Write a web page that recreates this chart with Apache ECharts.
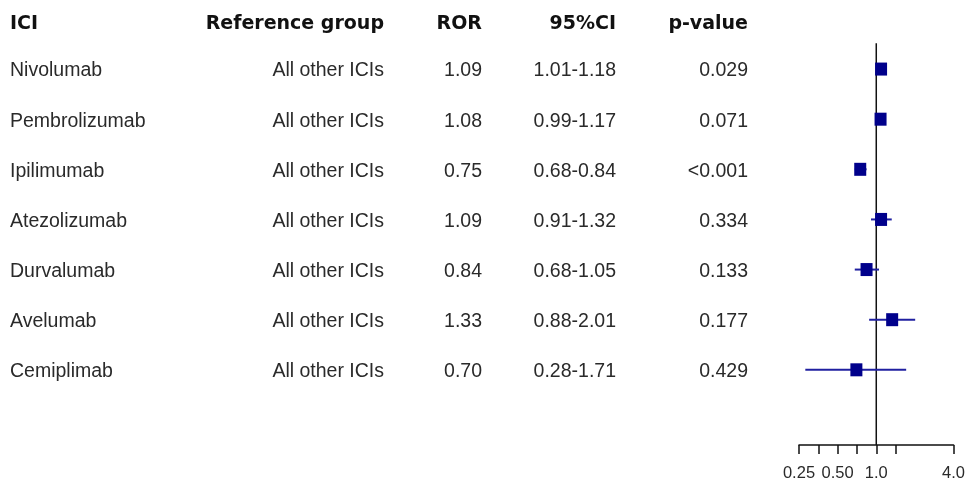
<!DOCTYPE html>
<html>
<head>
<meta charset="utf-8">
<script src="https://cdn.jsdelivr.net/npm/echarts@6/dist/echarts.min.js"></script>
<style>
html,body{margin:0;padding:0;background:#fff;}
#chart{width:968px;height:484px;}
</style>
</head>
<body>
<div id="chart"></div>
<script>
var drugs = ['Nivolumab','Pembrolizumab','Ipilimumab','Atezolizumab','Durvalumab','Avelumab','Cemiplimab'];
var refGroups = ['All other ICIs','All other ICIs','All other ICIs','All other ICIs','All other ICIs','All other ICIs','All other ICIs'];
var ror = [1.09, 1.08, 0.75, 1.09, 0.84, 1.33, 0.70];
var ciLow = [1.01, 0.99, 0.68, 0.91, 0.68, 0.88, 0.28];
var ciHigh = [1.18, 1.17, 0.84, 1.32, 1.05, 2.01, 1.71];
var pValues = ['0.029','0.071','<0.001','0.334','0.133','0.177','0.429'];
var headers = ['ICI','Reference group','ROR','95%CI','p-value'];
var refValue = 1.0;
var tickValues = [0.25, 0.354, 0.5, 0.707, 1.0, 1.414, 4.0];
var tickLabelValues = [0.25, 0.5, 1.0, 4.0];
var tickLabels = ['0.25','0.50','1.0','4.0'];

var log2 = function(v){ return Math.log(v)/Math.LN2; };
var FONT = "'Liberation Sans', Arial, sans-serif";
var HFONT = "'DejaVu Sans', Verdana, sans-serif";
var TXT = '#2a2a2a';
var GRID_TOP = 44, GRID_H = 401;

// column layout (pixel x of anchor, alignment)
var cols = [
  {x: 10, align: 'left'},
  {x: 384, align: 'right'},
  {x: 482, align: 'right'},
  {x: 616, align: 'right'},
  {x: 748, align: 'right'}
];

var rows = drugs.map(function(d, i){
  return [d, refGroups[i], ror[i].toFixed(2), ciLow[i].toFixed(2) + '-' + ciHigh[i].toFixed(2), pValues[i]];
});

var textSeries = [];
cols.forEach(function(c, ci){
  var data = [{value: [c.x, 0.1], name: headers[ci],
    label: {fontWeight: 'bold', fontSize: 19, fontFamily: HFONT, color: '#111', offset: [0, 0]}}];
  rows.forEach(function(r, ri){ data.push({value: [c.x, ri + 1], name: r[ci]}); });
  textSeries.push({
    type: 'scatter', xAxisIndex: 1, yAxisIndex: 1, symbolSize: 0, clip: false, silent: true,
    itemStyle: {opacity: 1},
    data: data,
    label: {show: true, position: 'inside', align: c.align, verticalAlign: 'middle', offset: [0, 2],
      formatter: function(p){ return p.name; }, color: TXT, fontSize: 19.5, fontFamily: FONT}
  });
});

var labelMap = {};
tickLabelValues.forEach(function(v, i){ labelMap[log2(v).toFixed(3)] = tickLabels[i]; });

var chart = echarts.init(document.getElementById('chart'), null, {renderer: 'canvas'});
chart.setOption({
  animation: false,
  backgroundColor: '#fff',
  grid: [
    {left: 799, right: 10, top: GRID_TOP, height: GRID_H},
    {left: 0, right: 0, top: GRID_TOP, height: GRID_H}
  ],
  xAxis: [
    {type: 'value', gridIndex: 0, min: -2, max: 2,
      splitLine: {show: false},
      axisLine: {show: true, onZero: false, lineStyle: {color: '#111', width: 1.5}},
      axisTick: {show: true, length: 9, lineStyle: {color: '#111', width: 1.5},
        customValues: tickValues.map(log2)},
      axisLabel: {show: true, margin: 20, color: TXT, fontSize: 16.5, fontFamily: FONT,
        customValues: tickLabelValues.map(log2),
        formatter: function(v){ return labelMap[v.toFixed(3)] || ''; }}
    },
    {type: 'value', gridIndex: 1, min: 0, max: 968, show: false}
  ],
  yAxis: [
    {type: 'value', gridIndex: 0, inverse: true, min: 0.5, max: 8.5, show: false},
    {type: 'value', gridIndex: 1, inverse: true, min: 0.5, max: 8.5, show: false}
  ],
  series: [
    {
      type: 'line', xAxisIndex: 0, yAxisIndex: 0, silent: true, symbol: 'none',
      lineStyle: {color: '#111', width: 1.5},
      data: [[log2(refValue), 0.48], [log2(refValue), 8.5]],
      z: 1
    },
    {
      type: 'custom', xAxisIndex: 0, yAxisIndex: 0, silent: true,
      data: drugs.map(function(d, i){ return [log2(ciLow[i]), log2(ciHigh[i]), i + 1]; }),
      renderItem: function(params, api){
        var a = api.coord([api.value(0), api.value(2)]);
        var b = api.coord([api.value(1), api.value(2)]);
        return {type: 'line', shape: {x1: a[0], y1: a[1], x2: b[0], y2: b[1]},
          style: {stroke: '#2020a0', lineWidth: 2}};
      },
      z: 2
    },
    {
      type: 'scatter', xAxisIndex: 0, yAxisIndex: 0, symbol: 'rect', symbolSize: [12, 13], silent: true,
      itemStyle: {color: '#00008b', opacity: 1},
      data: drugs.map(function(d, i){ return [log2(ror[i]), i + 1]; }),
      z: 3
    }
  ].concat(textSeries)
});
</script>
</body>
</html>
